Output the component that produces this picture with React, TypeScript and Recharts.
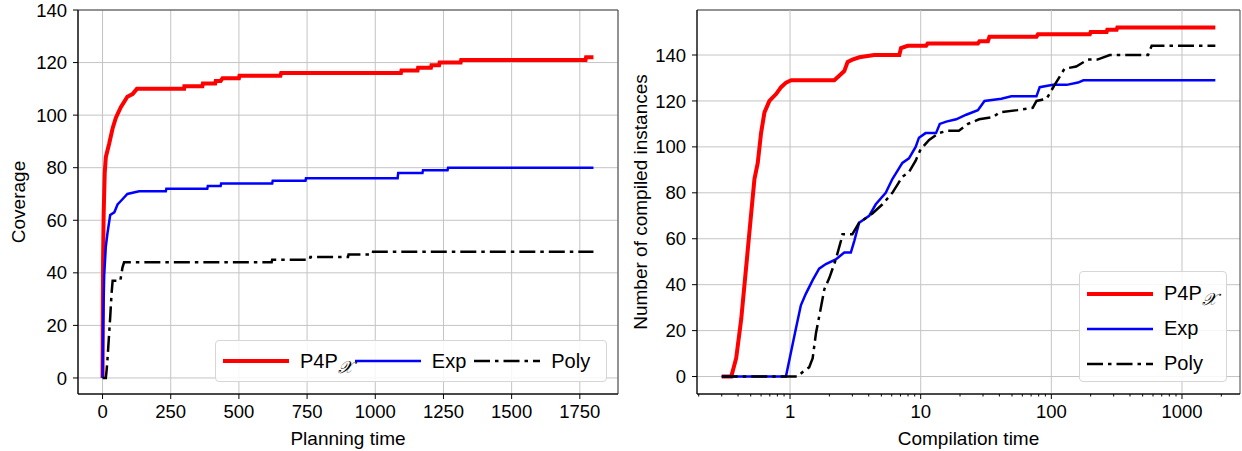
import React from 'react';
import { LineChart, Line, XAxis, YAxis, CartesianGrid, ReferenceLine, ReferenceArea } from 'recharts';

// planning time vs coverage, [time, count]
const planP4P: [number, number][] = [
  [0, 0], [1, 25], [2, 45], [4, 62], [8, 78], [12, 84], [24, 89], [37, 95], [49, 99], [67, 103],
  [91, 107], [110, 108], [126, 110], [299, 110], [300, 111], [366, 111], [368, 112], [413, 112],
  [415, 113], [433, 113], [440, 114], [500, 114], [502, 115], [652, 115], [655, 116], [1094, 116],
  [1096, 117], [1155, 117], [1157, 118], [1204, 118], [1206, 119], [1234, 119], [1236, 120],
  [1313, 120], [1315, 121], [1771, 121], [1773, 122], [1800, 122],
];
const planExp: [number, number][] = [
  [0, 0], [2, 20], [6, 39], [12, 50], [18, 55], [28, 62], [43, 63], [55, 66], [73, 68], [91, 70],
  [134, 71], [232, 71], [234, 72], [384, 72], [386, 73], [433, 73], [435, 74], [622, 74], [624, 75],
  [744, 75], [746, 76], [1082, 76], [1084, 78], [1173, 78], [1175, 79], [1265, 79], [1267, 80],
  [1800, 80],
];
const planPoly: [number, number][] = [
  [0, 0], [12, 0], [15, 3], [18, 7], [23, 15], [28, 23], [33, 32], [37, 37], [65, 37], [70, 40],
  [73, 42], [79, 44], [620, 44], [622, 45], [760, 45], [762, 46], [900, 46], [902, 47], [990, 47],
  [992, 48], [1800, 48],
];

// compilation time (log) vs compiled instances
const compP4P: [number, number][] = [
  [0.3, 0], [0.355, 0], [0.387, 8], [0.423, 25], [0.462, 48], [0.504, 71], [0.534, 86], [0.566, 93],
  [0.6, 106], [0.637, 115], [0.695, 120], [0.782, 123], [0.854, 126], [0.932, 128], [1.02, 129],
  [2.18, 129], [2.38, 131], [2.6, 133], [2.76, 137], [3.0, 138], [3.39, 139], [4.41, 140],
  [6.86, 140], [7.07, 143], [7.95, 144], [11, 144], [11.3, 145], [27.4, 145], [28.2, 146],
  [32.7, 146], [33.6, 148], [77, 148], [79, 149], [197, 149], [200, 150], [265, 150], [268, 151],
  [316, 151], [320, 152], [1800, 152],
];
const compExp: [number, number][] = [
  [0.3, 0], [0.93, 0], [1.02, 11], [1.11, 21], [1.21, 31], [1.32, 36], [1.49, 42], [1.67, 47],
  [1.88, 49], [2.24, 51], [2.6, 54], [2.92, 54], [3.1, 59], [3.38, 67], [4.03, 70], [4.53, 75],
  [5.4, 80], [6.07, 86], [7.24, 93], [8.13, 95], [9.15, 100], [9.7, 104], [10.9, 106], [13.1, 106],
  [14, 110], [15.7, 111], [18.7, 112], [22.3, 114], [27.4, 116], [30.8, 120], [41.4, 121],
  [49.4, 122], [76.9, 122], [81.5, 126], [103, 127], [131, 127], [160, 128], [176, 129], [1800, 129],
];
const compPoly: [number, number][] = [
  [0.3, 0], [1.14, 0], [1.25, 2], [1.4, 4], [1.49, 8], [1.58, 19], [1.67, 26], [1.83, 38], [2.0, 43],
  [2.24, 51], [2.45, 59], [2.52, 62], [3.0, 62], [3.38, 67], [4.27, 71], [5.1, 75], [6.07, 80],
  [7.24, 87], [8.13, 89], [9.15, 94], [10, 99], [11.6, 103], [13.8, 106], [16, 107], [19.6, 107],
  [23, 110], [28, 112], [36, 113], [40, 115], [55, 116], [72, 117], [77, 120], [92, 121], [106, 127],
  [126, 134], [155, 135], [190, 138], [225, 138], [280, 140], [550, 140], [586, 144], [1800, 144],
];

const planTicks = [0, 250, 500, 750, 1000, 1250, 1500, 1750];
const coverageTicks = [0, 20, 40, 60, 80, 100, 120, 140];
const compMajor = [1, 10, 100, 1000];
const compMinor = [
  0.2, 0.3, 0.4, 0.5, 0.6, 0.7, 0.8, 0.9, 2, 3, 4, 5, 6, 7, 8, 9,
  20, 30, 40, 50, 60, 70, 80, 90, 200, 300, 400, 500, 600, 700, 800, 900, 2000,
];
const compiledTicks = [0, 20, 40, 60, 80, 100, 120, 140];

const seriesNames = ['P4P', 'Exp', 'Poly'];
const seriesColors = ['#ff0000', '#0000ff', '#000000'];
const seriesWidths = [4, 2.5, 2.5];
const seriesDash = [undefined, undefined, '16 5 3.5 5'];

const FONT = '"Liberation Sans", Arial, sans-serif';
const GRID = '#c4c4c4';
const FRAME = '#444';

const rows = (pts: [number, number][]) => pts.map(([t, v]) => ({ t, v }));

const SeriesLabel = ({ i }: { i: number }) =>
  i === 0 ? (
    <span>
      P4P
      <span style={{ fontFamily: '"DejaVu Serif", "DejaVu Sans", serif', fontStyle: 'italic', fontSize: 17, position: 'relative', top: 5 }}>
        𝒳
      </span>
    </span>
  ) : (
    <span>{seriesNames[i]}</span>
  );

const Swatch = ({ i }: { i: number }) => (
  <svg width={66} height={10} style={{ display: 'block' }}>
    <line x1={0} x2={66} y1={5} y2={5} stroke={seriesColors[i]} strokeWidth={seriesWidths[i]} strokeDasharray={seriesDash[i]} />
  </svg>
);

const LogTick = (props: any) => {
  const { x, y, payload } = props;
  const major = compMajor.includes(payload.value);
  return (
    <g>
      <line x1={x} x2={x} y1={y} y2={y + (major ? 5 : 2.5)} stroke="#000" strokeWidth={1} />
      {major && (
        <text x={x} y={y + 11} dy="0.71em" textAnchor="middle" fill="#000" fontSize={18.5} fontFamily={FONT}>
          {payload.value}
        </text>
      )}
    </g>
  );
};

const seriesLines = (sets: [number, number][][]) =>
  sets.map((pts, i) => (
    <Line
      key={seriesNames[i]}
      data={rows(pts)}
      dataKey="v"
      type="linear"
      stroke={seriesColors[i]}
      strokeWidth={seriesWidths[i]}
      strokeDasharray={seriesDash[i]}
      dot={false}
      activeDot={false}
      isAnimationActive={false}
    />
  ));

export default function App() {
  const tickStyle = { fill: '#000', fontSize: 18.5, fontFamily: FONT };
  const labelStyle = { fill: '#000', fontSize: 19, fontFamily: FONT };
  return (
    <div style={{ position: 'absolute', left: 0, top: 0, width: 1242, height: 451, background: '#fff', fontFamily: FONT }}>
      <div style={{ position: 'absolute', left: 0, top: 0 }}>
        <LineChart width={630} height={451} margin={{ top: 10, right: 12, bottom: 0, left: 0 }}>
          <CartesianGrid stroke={GRID} strokeWidth={1} />
          <ReferenceArea x1={-90} x2={1890} y1={-6.1} y2={140} fill="none" stroke={FRAME} strokeWidth={1} ifOverflow="visible" />
          <XAxis
            type="number"
            dataKey="t"
            domain={[-90, 1890]}
            ticks={planTicks}
            interval={0}
            allowDataOverflow
            height={57}
            tickSize={5}
            tickMargin={6}
            stroke="#000"
            tick={tickStyle}
            label={{ value: 'Planning time', position: 'insideBottom', offset: 6, ...labelStyle }}
          />
          <YAxis
            type="number"
            domain={[-6.1, 140]}
            ticks={coverageTicks}
            interval={0}
            allowDataOverflow
            width={78}
            tickSize={5}
            tickMargin={6}
            stroke="#000"
            tick={tickStyle}
            label={{ value: 'Coverage', angle: -90, position: 'insideLeft', offset: 18, style: { textAnchor: 'middle' }, ...labelStyle }}
          />
          {seriesLines([planP4P, planExp, planPoly])}
        </LineChart>
      </div>
      <div style={{ position: 'absolute', left: 630, top: 0 }}>
        <LineChart width={612} height={451} margin={{ top: 10, right: 2, bottom: 0, left: 0 }}>
          <CartesianGrid stroke={GRID} strokeWidth={1} vertical={false} />
          {compMajor.map((v) => (
            <ReferenceLine key={v} x={v} stroke={GRID} strokeWidth={1} />
          ))}
          <ReferenceArea x1={0.194} x2={2780} y1={-7.6} y2={159.6} fill="none" stroke={FRAME} strokeWidth={1} ifOverflow="visible" />
          <XAxis
            type="number"
            dataKey="t"
            scale="log"
            domain={[0.194, 2780]}
            ticks={[...compMinor, ...compMajor].sort((a, b) => a - b)}
            interval={0}
            allowDataOverflow
            height={57}
            tickSize={0}
            tickMargin={0}
            tickLine={false}
            stroke="#000"
            tick={<LogTick />}
            label={{ value: 'Compilation time', position: 'insideBottom', offset: 6, ...labelStyle }}
          />
          <YAxis
            type="number"
            domain={[-7.6, 159.6]}
            ticks={compiledTicks}
            interval={0}
            allowDataOverflow
            width={67}
            tickSize={5}
            tickMargin={6}
            stroke="#000"
            tick={tickStyle}
            label={{ value: 'Number of compiled instances', angle: -90, position: 'insideLeft', offset: 10, style: { textAnchor: 'middle' }, ...labelStyle }}
          />
          {seriesLines([compP4P, compExp, compPoly])}
        </LineChart>
      </div>

      {/* legend, left panel: one row */}
      <div
        style={{
          position: 'absolute', left: 215, top: 340, width: 392, height: 42, boxSizing: 'border-box',
          border: '1px solid #d6d6d6', borderRadius: 4, background: 'rgba(255,255,255,0.85)',
          display: 'flex', alignItems: 'center', paddingLeft: 7, fontSize: 20, color: '#000',
        }}
      >
        {seriesNames.map((n, i) => (
          <div key={n} style={{ display: 'flex', alignItems: 'center', marginRight: i === 0 ? 2 : 8 }}>
            <Swatch i={i} />
            <div style={{ marginLeft: 11 }}>
              <SeriesLabel i={i} />
            </div>
          </div>
        ))}
      </div>

      {/* legend, right panel: stacked */}
      <div
        style={{
          position: 'absolute', left: 1079, top: 271, width: 148, height: 111, boxSizing: 'border-box',
          border: '1px solid #d6d6d6', borderRadius: 4, background: 'rgba(255,255,255,0.85)',
          paddingLeft: 7, paddingTop: 4, fontSize: 20, color: '#000',
        }}
      >
        {seriesNames.map((n, i) => (
          <div key={n} style={{ display: 'flex', alignItems: 'center', height: 35 }}>
            <Swatch i={i} />
            <div style={{ marginLeft: 11 }}>
              <SeriesLabel i={i} />
            </div>
          </div>
        ))}
      </div>
    </div>
  );
}
